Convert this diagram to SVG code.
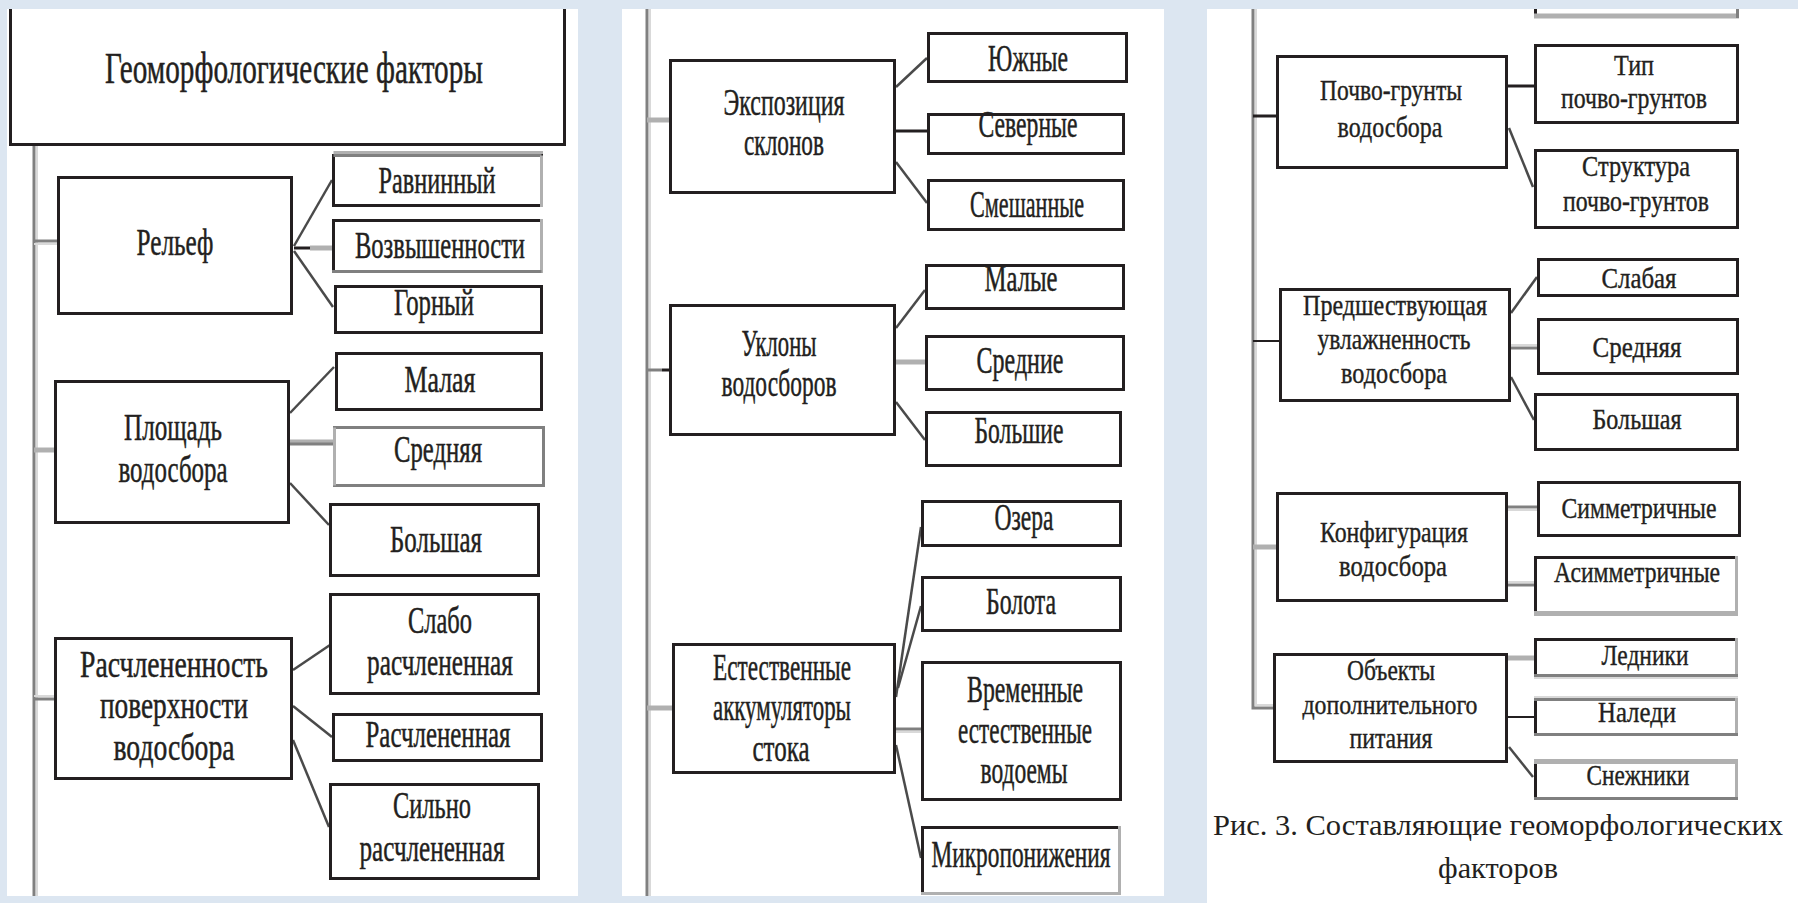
<svg xmlns="http://www.w3.org/2000/svg" width="1798" height="903" viewBox="0 0 1798 903">
<style>
.bg{fill:#dce6f1}
.pn{fill:#fff}
.bx{fill:#fff;stroke:#231f20;stroke-width:3}
.t{font-family:"Liberation Serif","Times New Roman",serif;fill:#231f20;text-anchor:middle}
.t1{font-size:38px;stroke:#231f20;stroke-width:0.5}
.t3{font-size:30px;stroke:#231f20;stroke-width:0.4}
.tt{font-size:44px;stroke:#231f20;stroke-width:0.5}
.tc{font-size:30px}
.c{stroke:#4a4a4a;stroke-width:2.5;fill:none}
.cg{stroke:#808080;stroke-width:3;fill:none}
.cl{stroke:#b0b0b0;stroke-width:5;fill:none}
.ck{stroke:#231f20;stroke-width:3;fill:none}
.ck2{stroke:#231f20;stroke-width:2;fill:none}
.tr{stroke:#808080;stroke-width:3;fill:none}
.trl{stroke:#d9d9d9;stroke-width:2;fill:none}
.eg{stroke:#808080;stroke-width:3}
.el{stroke:#b0b0b0;stroke-width:3}
</style>
<rect class="bg" x="0" y="0" width="1798" height="903"/>
<rect class="pn" x="7" y="9" width="571" height="887"/>
<rect class="pn" x="622" y="9" width="542" height="887"/>
<rect class="pn" x="1207" y="9" width="591" height="894"/>

<g id="connectors">
  <line class="trl" x1="37" y1="137" x2="37" y2="896"/>
  <line class="tr" x1="34" y1="137" x2="34" y2="896"/>
  <line class="cg" x1="34" y1="241" x2="57" y2="241"/>
  <line class="trl" x1="34" y1="244" x2="57" y2="244"/>
  <line class="cl" x1="34" y1="450" x2="55" y2="450"/>
  <line class="cg" x1="34" y1="699" x2="55" y2="699"/>
  <line class="trl" x1="34" y1="696" x2="55" y2="696"/>
  <line class="c" x1="294" y1="246" x2="332" y2="180"/>
  <line class="ck" x1="294" y1="248" x2="310" y2="248"/>
  <line class="cl" x1="310" y1="248" x2="332" y2="248"/>
  <line class="c" x1="294" y1="251" x2="333" y2="307"/>
  <line class="c" x1="290" y1="413" x2="334" y2="367"/>
  <line class="cl" x1="290" y1="442" x2="334" y2="442"/>
  <line class="cg" x1="290" y1="444" x2="334" y2="444"/>
  <line class="c" x1="290" y1="483" x2="329" y2="525"/>
  <line class="c" x1="293" y1="670" x2="330" y2="645"/>
  <line class="c" x1="293" y1="706" x2="332" y2="737"/>
  <line class="c" x1="293" y1="740" x2="329" y2="827"/>

  <line class="trl" x1="650" y1="9" x2="650" y2="896"/>
  <line class="tr" x1="647" y1="9" x2="647" y2="896"/>
  <line class="cl" x1="647" y1="120" x2="669" y2="120"/>
  <line class="cg" x1="647" y1="370" x2="662" y2="370"/>
  <line class="ck" x1="662" y1="370" x2="669" y2="370"/>
  <line class="cl" x1="647" y1="708" x2="672" y2="708"/>
  <line class="c" x1="896" y1="87" x2="927" y2="58"/>
  <line class="ck" x1="896" y1="131" x2="927" y2="131"/>
  <line class="c" x1="896" y1="162" x2="927" y2="203"/>
  <line class="c" x1="896" y1="328" x2="925" y2="290"/>
  <line class="cl" x1="896" y1="362" x2="925" y2="362"/>
  <line class="c" x1="896" y1="402" x2="925" y2="440"/>
  <line class="c" x1="896" y1="697" x2="921" y2="527"/>
  <line class="c" x1="898" y1="688" x2="921" y2="606"/>
  <line class="cg" x1="896" y1="729" x2="921" y2="729"/>
  <line class="trl" x1="896" y1="732" x2="921" y2="732"/>
  <line class="c" x1="896" y1="745" x2="921" y2="858"/>

  <path class="trl" d="M1256,9 V705 H1273"/>
  <path class="tr" d="M1253,9 V708 H1273"/>
  <line class="ck" x1="1253" y1="116" x2="1276" y2="116"/>
  <line class="ck2" x1="1253" y1="341" x2="1279" y2="341"/>
  <line class="cl" x1="1253" y1="547" x2="1276" y2="547"/>
  <line class="ck" x1="1508" y1="86" x2="1534" y2="86"/>
  <line class="c" x1="1509" y1="128" x2="1533" y2="187"/>
  <line class="c" x1="1511" y1="313" x2="1537" y2="277"/>
  <line class="trl" x1="1511" y1="345" x2="1537" y2="345"/>
  <line class="cg" x1="1511" y1="348" x2="1537" y2="348"/>
  <line class="c" x1="1511" y1="377" x2="1534" y2="420"/>
  <line class="cg" x1="1508" y1="507" x2="1537" y2="507"/>
  <line class="trl" x1="1508" y1="510" x2="1537" y2="510"/>
  <line class="trl" x1="1508" y1="582" x2="1534" y2="582"/>
  <line class="cg" x1="1508" y1="585" x2="1534" y2="585"/>
  <line class="cl" x1="1508" y1="658" x2="1534" y2="658"/>
  <line class="ck2" x1="1508" y1="717" x2="1534" y2="717"/>
  <line class="c" x1="1509" y1="747" x2="1533" y2="777"/>
</g>

<g id="n-title">
  <path class="bx" d="M10.5,9 V144.5 H564.5 V9"/>
  <text class="t tt" x="294" y="83" textLength="378" lengthAdjust="spacingAndGlyphs">Геоморфологические факторы</text>
</g>
<g id="n-relief">
  <rect class="bx" x="58.5" y="177.5" width="233" height="136"/>
  <text class="t t1" x="175" y="255" textLength="77" lengthAdjust="spacingAndGlyphs">Рельеф</text>
</g>
<g id="n-ravninny">
  <rect class="bx" x="333.5" y="155.5" width="208" height="50"/>
  <line class="eg" x1="333.5" y1="155.5" x2="541.5" y2="155.5"/>
  <line class="el" x1="333.5" y1="152.5" x2="543" y2="152.5"/>
  <line class="el" x1="541.5" y1="155.5" x2="541.5" y2="207"/>
  <text class="t t1" x="437" y="193" textLength="117" lengthAdjust="spacingAndGlyphs">Равнинный</text>
</g>
<g id="n-vozv">
  <rect class="bx" x="333.5" y="220.5" width="208" height="51"/>
  <line class="el" x1="541.5" y1="219" x2="541.5" y2="273"/>
  <line class="eg" x1="332" y1="271.5" x2="541.5" y2="271.5"/>
  <text class="t t1" x="440" y="258" textLength="170" lengthAdjust="spacingAndGlyphs">Возвышенности</text>
</g>
<g id="n-gorny">
  <rect class="bx" x="335.5" y="286.5" width="206" height="46"/>
  <text class="t t1" x="434" y="315" textLength="80" lengthAdjust="spacingAndGlyphs">Горный</text>
</g>
<g id="n-ploshad">
  <rect class="bx" x="55.5" y="381.5" width="233" height="141"/>
  <text class="t t1" x="173" y="440" textLength="98" lengthAdjust="spacingAndGlyphs">Площадь</text>
  <text class="t t1" x="173" y="482" textLength="109" lengthAdjust="spacingAndGlyphs">водосбора</text>
</g>
<g id="n-malaya">
  <rect class="bx" x="336.5" y="353.5" width="205" height="56"/>
  <text class="t t1" x="440" y="392" textLength="71" lengthAdjust="spacingAndGlyphs">Малая</text>
</g>
<g id="n-srednyaya1">
  <rect class="bx" x="334.5" y="427.5" width="209" height="58" style="stroke:#808080"/>
  <line class="el" x1="334.5" y1="427.5" x2="334.5" y2="485.5"/>
  <text class="t t1" x="438" y="462" textLength="88" lengthAdjust="spacingAndGlyphs">Средняя</text>
</g>
<g id="n-bolshaya1">
  <rect class="bx" x="330.5" y="504.5" width="208" height="71"/>
  <text class="t t1" x="436" y="552" textLength="92" lengthAdjust="spacingAndGlyphs">Большая</text>
</g>
<g id="n-raschl">
  <rect class="bx" x="55.5" y="638.5" width="236" height="140"/>
  <text class="t t1" x="174" y="677" textLength="188" lengthAdjust="spacingAndGlyphs">Расчлененность</text>
  <text class="t t1" x="174" y="718" textLength="148" lengthAdjust="spacingAndGlyphs">поверхности</text>
  <text class="t t1" x="174" y="760" textLength="121" lengthAdjust="spacingAndGlyphs">водосбора</text>
</g>
<g id="n-slabo">
  <rect class="bx" x="330.5" y="594.5" width="208" height="99"/>
  <text class="t t1" x="440" y="633" textLength="64" lengthAdjust="spacingAndGlyphs">Слабо</text>
  <text class="t t1" x="440" y="675" textLength="146" lengthAdjust="spacingAndGlyphs">расчлененная</text>
</g>
<g id="n-raschlen">
  <rect class="bx" x="333.5" y="714.5" width="208" height="46"/>
  <text class="t t1" x="438" y="747" textLength="145" lengthAdjust="spacingAndGlyphs">Расчлененная</text>
</g>
<g id="n-silno">
  <rect class="bx" x="330.5" y="784.5" width="208" height="94"/>
  <text class="t t1" x="432" y="818" textLength="78" lengthAdjust="spacingAndGlyphs">Сильно</text>
  <text class="t t1" x="432" y="861" textLength="145" lengthAdjust="spacingAndGlyphs">расчлененная</text>
</g>

<g id="n-ekspoz">
  <rect class="bx" x="670.5" y="60.5" width="224" height="132"/>
  <text class="t t1" x="784" y="115" textLength="121" lengthAdjust="spacingAndGlyphs">Экспозиция</text>
  <text class="t t1" x="784" y="155" textLength="80" lengthAdjust="spacingAndGlyphs">склонов</text>
</g>
<g id="n-yuzhnye">
  <rect class="bx" x="928.5" y="33.5" width="198" height="48"/>
  <text class="t t1" x="1028" y="71" textLength="80" lengthAdjust="spacingAndGlyphs">Южные</text>
</g>
<g id="n-severnye">
  <rect class="bx" x="928.5" y="114.5" width="195" height="39"/>
  <text class="t t1" x="1028" y="137" textLength="99" lengthAdjust="spacingAndGlyphs">Северные</text>
</g>
<g id="n-smeshannye">
  <rect class="bx" x="928.5" y="180.5" width="195" height="49"/>
  <text class="t t1" x="1027" y="217" textLength="114" lengthAdjust="spacingAndGlyphs">Смешанные</text>
</g>
<g id="n-uklony">
  <rect class="bx" x="670.5" y="305.5" width="224" height="129"/>
  <text class="t t1" x="779" y="356" textLength="75" lengthAdjust="spacingAndGlyphs">Уклоны</text>
  <text class="t t1" x="779" y="396" textLength="115" lengthAdjust="spacingAndGlyphs">водосборов</text>
</g>
<g id="n-malye">
  <rect class="bx" x="926.5" y="265.5" width="197" height="43"/>
  <text class="t t1" x="1021" y="291" textLength="73" lengthAdjust="spacingAndGlyphs">Малые</text>
</g>
<g id="n-srednie">
  <rect class="bx" x="926.5" y="336.5" width="197" height="53"/>
  <text class="t t1" x="1020" y="373" textLength="87" lengthAdjust="spacingAndGlyphs">Средние</text>
</g>
<g id="n-bolshie">
  <rect class="bx" x="926.5" y="412.5" width="194" height="53"/>
  <text class="t t1" x="1019" y="443" textLength="89" lengthAdjust="spacingAndGlyphs">Большие</text>
</g>
<g id="n-estestv">
  <rect class="bx" x="673.5" y="644.5" width="221" height="128"/>
  <text class="t t1" x="782" y="680" textLength="138" lengthAdjust="spacingAndGlyphs">Естественные</text>
  <text class="t t1" x="782" y="720" textLength="138" lengthAdjust="spacingAndGlyphs">аккумуляторы</text>
  <text class="t t1" x="781" y="761" textLength="57" lengthAdjust="spacingAndGlyphs">стока</text>
</g>
<g id="n-ozera">
  <rect class="bx" x="922.5" y="501.5" width="198" height="44"/>
  <text class="t t1" x="1024" y="530" textLength="59" lengthAdjust="spacingAndGlyphs">Озера</text>
</g>
<g id="n-bolota">
  <rect class="bx" x="922.5" y="577.5" width="198" height="53"/>
  <text class="t t1" x="1021" y="614" textLength="70" lengthAdjust="spacingAndGlyphs">Болота</text>
</g>
<g id="n-vremennye">
  <rect class="bx" x="922.5" y="662.5" width="198" height="137"/>
  <text class="t t1" x="1025" y="702" textLength="116" lengthAdjust="spacingAndGlyphs">Временные</text>
  <text class="t t1" x="1025" y="743" textLength="134" lengthAdjust="spacingAndGlyphs">естественные</text>
  <text class="t t1" x="1024" y="783" textLength="87" lengthAdjust="spacingAndGlyphs">водоемы</text>
</g>
<g id="n-mikro">
  <rect class="bx" x="922.5" y="827.5" width="197" height="66"/>
  <line class="el" x1="1119.5" y1="826" x2="1119.5" y2="895"/>
  <line class="el" x1="921" y1="893.5" x2="1121" y2="893.5"/>
  <text class="t t1" x="1021" y="867" textLength="179" lengthAdjust="spacingAndGlyphs">Микропонижения</text>
</g>

<g id="n-top3">
  <path class="bx" d="M1535.5,9 V15.5"/>
  <line class="el" x1="1534" y1="16" x2="1739" y2="16" style="stroke-width:5"/>
  <line class="eg" x1="1737.5" y1="9" x2="1737.5" y2="18"/>
</g>
<g id="n-pochvo">
  <rect class="bx" x="1277.5" y="56.5" width="229" height="111"/>
  <text class="t t3" x="1391" y="100" textLength="142" lengthAdjust="spacingAndGlyphs">Почво-грунты</text>
  <text class="t t3" x="1390" y="137" textLength="105" lengthAdjust="spacingAndGlyphs">водосбора</text>
</g>
<g id="n-tip">
  <rect class="bx" x="1535.5" y="45.5" width="202" height="77"/>
  <text class="t t3" x="1634" y="75" textLength="40" lengthAdjust="spacingAndGlyphs">Тип</text>
  <text class="t t3" x="1634" y="108" textLength="146" lengthAdjust="spacingAndGlyphs">почво-грунтов</text>
</g>
<g id="n-struktura">
  <rect class="bx" x="1535.5" y="150.5" width="202" height="77"/>
  <text class="t t3" x="1636" y="176" textLength="108" lengthAdjust="spacingAndGlyphs">Структура</text>
  <text class="t t3" x="1636" y="211" textLength="146" lengthAdjust="spacingAndGlyphs">почво-грунтов</text>
</g>
<g id="n-predsh">
  <rect class="bx" x="1280.5" y="289.5" width="229" height="111"/>
  <text class="t t3" x="1395" y="315" textLength="184" lengthAdjust="spacingAndGlyphs">Предшествующая</text>
  <text class="t t3" x="1394" y="349" textLength="153" lengthAdjust="spacingAndGlyphs">увлажненность</text>
  <text class="t t3" x="1394" y="383" textLength="106" lengthAdjust="spacingAndGlyphs">водосбора</text>
</g>
<g id="n-slabaya">
  <rect class="bx" x="1538.5" y="259.5" width="199" height="36"/>
  <text class="t t3" x="1639" y="288" textLength="75" lengthAdjust="spacingAndGlyphs">Слабая</text>
</g>
<g id="n-srednyaya3">
  <rect class="bx" x="1538.5" y="319.5" width="199" height="54"/>
  <text class="t t3" x="1637" y="357" textLength="89" lengthAdjust="spacingAndGlyphs">Средняя</text>
</g>
<g id="n-bolshaya3">
  <rect class="bx" x="1535.5" y="394.5" width="202" height="55"/>
  <text class="t t3" x="1637" y="429" textLength="89" lengthAdjust="spacingAndGlyphs">Большая</text>
</g>
<g id="n-konfig">
  <rect class="bx" x="1277.5" y="493.5" width="229" height="107"/>
  <text class="t t3" x="1394" y="542" textLength="148" lengthAdjust="spacingAndGlyphs">Конфигурация</text>
  <text class="t t3" x="1393" y="576" textLength="108" lengthAdjust="spacingAndGlyphs">водосбора</text>
</g>
<g id="n-simm">
  <rect class="bx" x="1538.5" y="482.5" width="201" height="53"/>
  <text class="t t3" x="1639" y="518" textLength="155" lengthAdjust="spacingAndGlyphs">Симметричные</text>
</g>
<g id="n-asimm">
  <rect class="bx" x="1535.5" y="557.5" width="201" height="56"/>
  <line class="el" x1="1736.5" y1="556" x2="1736.5" y2="615"/>
  <line class="el" x1="1534" y1="613.5" x2="1738" y2="613.5" style="stroke-width:5"/>
  <text class="t t3" x="1637" y="582" textLength="166" lengthAdjust="spacingAndGlyphs">Асимметричные</text>
</g>
<g id="n-obekty">
  <rect class="bx" x="1274.5" y="654.5" width="232" height="107"/>
  <text class="t t3" x="1391" y="680" textLength="88" lengthAdjust="spacingAndGlyphs">Объекты</text>
  <text class="t t3" x="1390" y="714" textLength="175" lengthAdjust="spacingAndGlyphs" style="font-size:28px">дополнительного</text>
  <text class="t t3" x="1391" y="748" textLength="83" lengthAdjust="spacingAndGlyphs">питания</text>
</g>
<g id="n-ledniki">
  <rect class="bx" x="1535.5" y="639.5" width="201" height="36"/>
  <line class="el" x1="1736.5" y1="638" x2="1736.5" y2="677"/>
  <line class="eg" x1="1534" y1="675.5" x2="1738" y2="675.5"/>
  <line class="trl" x1="1534" y1="678" x2="1738" y2="678"/>
  <text class="t t3" x="1645" y="665" textLength="87" lengthAdjust="spacingAndGlyphs">Ледники</text>
</g>
<g id="n-naledi">
  <rect class="bx" x="1535.5" y="699.5" width="201" height="35"/>
  <line class="eg" x1="1534" y1="699.5" x2="1738" y2="699.5"/>
  <line class="trl" x1="1534" y1="697" x2="1738" y2="697"/>
  <line class="el" x1="1736.5" y1="698" x2="1736.5" y2="736"/>
  <line class="eg" x1="1534" y1="734.5" x2="1738" y2="734.5"/>
  <text class="t t3" x="1637" y="722" textLength="78" lengthAdjust="spacingAndGlyphs">Наледи</text>
</g>
<g id="n-snezhniki">
  <rect class="bx" x="1535.5" y="761.5" width="201" height="37"/>
  <line class="el" x1="1534" y1="761.5" x2="1738" y2="761.5" style="stroke-width:5"/>
  <line class="el" x1="1736.5" y1="760" x2="1736.5" y2="800"/>
  <line class="eg" x1="1534" y1="798.5" x2="1738" y2="798.5"/>
  <text class="t t3" x="1638" y="785" textLength="103" lengthAdjust="spacingAndGlyphs">Снежники</text>
</g>
<g id="caption">
  <text class="t tc" x="1498" y="835" textLength="570" lengthAdjust="spacingAndGlyphs">Рис. 3. Составляющие геоморфологических</text>
  <text class="t tc" x="1498" y="878" textLength="120" lengthAdjust="spacingAndGlyphs">факторов</text>
</g>
</svg>
